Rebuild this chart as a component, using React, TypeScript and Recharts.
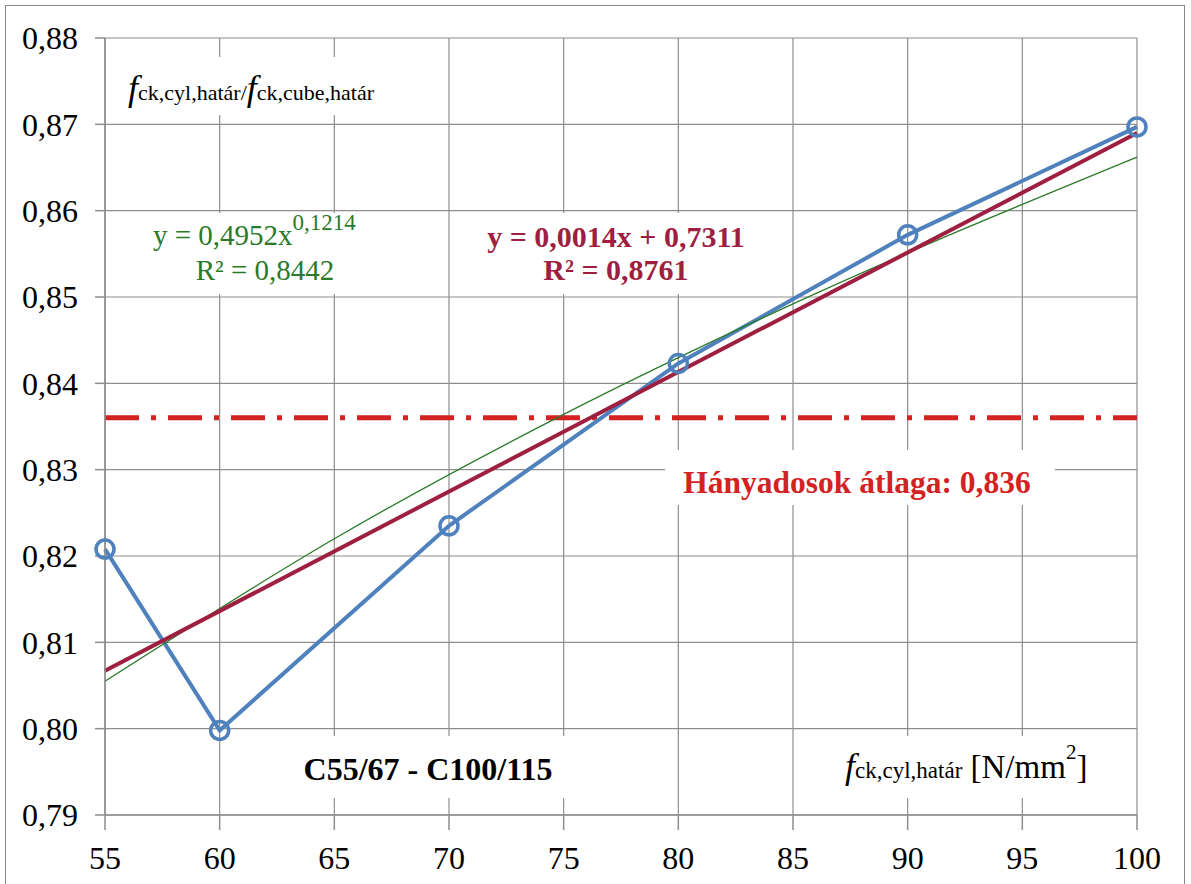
import React from 'react';
import { LineChart, Line, XAxis, YAxis, CartesianGrid, ReferenceLine } from 'recharts';

// measured ratio fck,cyl / fck,cube per strength class
const strengthX = [55, 60, 70, 80, 90, 100];
const ratioY = [0.8208, 0.7998, 0.8235, 0.8423, 0.8572, 0.8697];

// linear trend (at its two ends)
const linX = [55, 100];
const linY = [0.8067, 0.869];

// power trend
const powX = [55, 65, 75, 85, 100];
const powY = [0.8055, 0.822, 0.8364, 0.8492, 0.8662];

const avgRatio = 0.836;

const xTicks = [55, 60, 65, 70, 75, 80, 85, 90, 95, 100];
const yTicks = [0.79, 0.8, 0.81, 0.82, 0.83, 0.84, 0.85, 0.86, 0.87, 0.88];

const FONT = 'Liberation Serif, Tinos, Times New Roman, DejaVu Serif, serif';
const GRID = '#8e8e8e';
const BLUE = '#4f81bd';
const MAROON = '#9e1f40';
const GREEN = '#2a7a2a';
const RED = '#d42222';

const mainData = strengthX.map((x, i) => ({ x, y: ratioY[i] }));
const linData = linX.map((x, i) => ({ x, y: linY[i] }));
const powData = powX.map((x, i) => ({ x, y: powY[i] }));

const fmt = (v: number) => v.toFixed(2).replace('.', ',');

const Annotations = () => (
    <g style={{ fontFamily: FONT }}>
        {/* y axis title */}
        <rect x={120} y={57} width={282} height={58} fill="#fff" />
        <text x={128} y={100} fill="#000">
            <tspan fontStyle="italic" fontSize={36}>f</tspan>
            <tspan fontSize={22}>ck,cyl,határ</tspan>
            <tspan fontSize={22}>/</tspan>
            <tspan fontStyle="italic" fontSize={36}>f</tspan>
            <tspan fontSize={22}>ck,cube,határ</tspan>
        </text>

        {/* power trend equation */}
        <rect x={132} y={213} width={252} height={81} fill="#fff" />
        <text x={153} y={245} fill={GREEN} fontSize={29}>
            <tspan>y = 0,4952x</tspan>
            <tspan fontSize={23} dy={-15}>0,1214</tspan>
        </text>
        <text x={265} y={280} fill={GREEN} fontSize={29} textAnchor="middle">R² = 0,8442</text>

        {/* linear trend equation */}
        <rect x={470} y={213} width={292} height={81} fill="#fff" />
        <text x={616} y={247} fill={MAROON} fontSize={30} fontWeight="bold" textAnchor="middle">y = 0,0014x + 0,7311</text>
        <text x={616} y={280} fill={MAROON} fontSize={30} fontWeight="bold" textAnchor="middle">R² = 0,8761</text>

        {/* average */}
        <rect x={665} y={450} width={390} height={55} fill="#fff" />
        <text x={857} y={493} fill={RED} fontSize={31.5} fontWeight="bold" textAnchor="middle">Hányadosok átlaga: 0,836</text>

        {/* strength class range */}
        <rect x={288} y={736} width={282} height={62} fill="#fff" />
        <text x={428} y={780} fill="#000" fontSize={32} fontWeight="bold" textAnchor="middle">C55/67 - C100/115</text>

        {/* x axis title */}
        <rect x={815} y={736} width={290} height={62} fill="#fff" />
        <text x={845} y={778} fill="#000">
            <tspan fontStyle="italic" fontSize={36}>f</tspan>
            <tspan fontSize={23}>ck,cyl,határ</tspan>
            <tspan fontSize={33}> [N/mm</tspan>
            <tspan fontSize={21} dy={-19}>2</tspan>
            <tspan fontSize={33} dy={19}>]</tspan>
        </text>
    </g>
);

export default function App() {
    return (
        <div style={{ position: 'absolute', left: 0, top: 0, width: 1191, height: 884, background: '#fff', fontFamily: FONT }}>
            <div style={{ position: 'absolute', left: 5, top: 5, width: 1180, height: 885, border: '1.5px solid #8a8a8a', boxSizing: 'border-box' }} />
            <LineChart width={1191} height={884} margin={{ top: 38, right: 54, bottom: 0, left: 0 }} style={{ fontFamily: FONT }}>
                <CartesianGrid stroke={GRID} strokeWidth={1.2} />
                <XAxis
                    dataKey="x"
                    type="number"
                    domain={[55, 100]}
                    ticks={xTicks}
                    height={69}
                    tickSize={15}
                    tickMargin={16}
                    stroke={GRID}
                    strokeWidth={1.5}
                    tick={{ fill: '#000', fontSize: 32, style: { fontFamily: FONT } }}
                    allowDuplicatedCategory={false}
                />
                <YAxis
                    type="number"
                    domain={[0.79, 0.88]}
                    ticks={yTicks}
                    width={105}
                    tickSize={10}
                    tickMargin={17}
                    stroke={GRID}
                    strokeWidth={1.5}
                    tickFormatter={fmt}
                    tick={{ fill: '#000', fontSize: 32, style: { fontFamily: FONT } }}
                />
                <ReferenceLine y={avgRatio} stroke={RED} strokeWidth={5} strokeDasharray="34 12 5 12" />
                <Line
                    data={mainData}
                    dataKey="y"
                    type="linear"
                    stroke={BLUE}
                    strokeWidth={4}
                    dot={{ r: 9, stroke: BLUE, strokeWidth: 3.5, fill: 'none' }}
                    isAnimationActive={false}
                />
                <Line
                    data={powData}
                    dataKey="y"
                    type="monotone"
                    stroke={GREEN}
                    strokeWidth={1.3}
                    dot={false}
                    isAnimationActive={false}
                />
                <Line
                    data={linData}
                    dataKey="y"
                    type="linear"
                    stroke={MAROON}
                    strokeWidth={4}
                    dot={false}
                    isAnimationActive={false}
                />
                <Annotations />
            </LineChart>
        </div>
    );
}
